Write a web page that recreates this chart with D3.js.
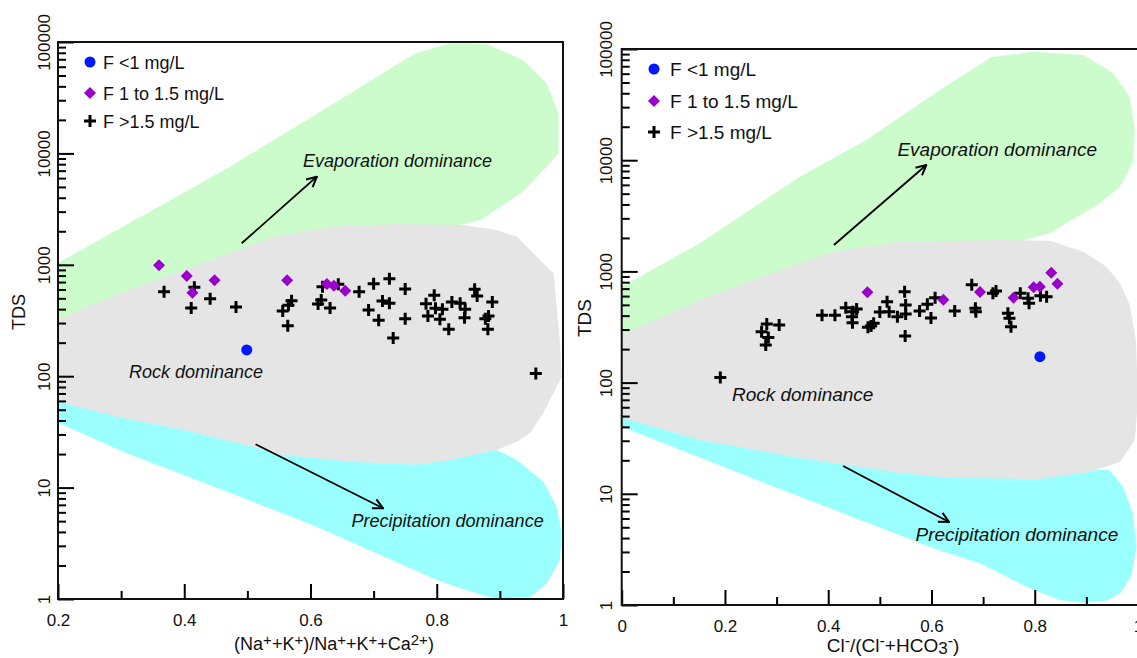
<!DOCTYPE html>
<html>
<head>
<meta charset="utf-8">
<script src="https://cdn.jsdelivr.net/npm/d3@7"></script>
<style>
 body { margin: 0; background: #fff; }
 text { font-family: "Liberation Sans", Arial, sans-serif; }
</style>
</head>
<body>
<svg id="chart" width="1137" height="658"></svg>
<script>
/* Gibbs diagrams: TDS against cation and anion ratios, samples split by fluoride class */

// ---- data ----
var tdsTicks = [1, 10, 100, 1000, 10000, 100000];
var naTicks = [0.2, 0.4, 0.6, 0.8, 1];
var naMinor = [0.3, 0.5, 0.7, 0.9];
var clTicks = [0, 0.2, 0.4, 0.6, 0.8, 1];
var clMinor = [0.1, 0.3, 0.5, 0.7, 0.9];
var legendLabels = ['F <1 mg/L', 'F 1 to 1.5 mg/L', 'F >1.5 mg/L'];

// left panel: (Na+K)/(Na+K+Ca) vs TDS
var naLowF = [[0.499, 172]];
var naMidF = [[0.360, 990], [0.404, 793], [0.448, 726], [0.413, 562], [0.563, 726],
 [0.626, 672], [0.637, 649], [0.655, 586]];
var naHighF = [[0.368, 574], [0.416, 628], [0.411, 409], [0.441, 496], [0.482, 418],
 [0.570, 476], [0.565, 433], [0.556, 385], [0.564, 284], [0.619, 636], [0.644, 668],
 [0.617, 483], [0.612, 445], [0.631, 409], [0.677, 574], [0.700, 677], [0.725, 750],
 [0.750, 607], [0.714, 473], [0.725, 451], [0.692, 393], [0.708, 318], [0.750, 328],
 [0.731, 220], [0.796, 532], [0.783, 448], [0.798, 407], [0.809, 399], [0.786, 347],
 [0.805, 324], [0.824, 463], [0.837, 451], [0.845, 399], [0.844, 335], [0.819, 264],
 [0.860, 603], [0.864, 525], [0.888, 463], [0.882, 347], [0.877, 328], [0.881, 264],
 [0.957, 106]];

// right panel: Cl/(Cl+HCO3) vs TDS
var clLowF = [[0.810, 171]];
var clMidF = [[0.476, 649], [0.623, 557], [0.694, 653], [0.759, 580], [0.798, 719],
 [0.810, 729], [0.832, 974], [0.844, 776]];
var clHighF = [[0.191, 111], [0.281, 336], [0.305, 330], [0.271, 287], [0.284, 255],
 [0.279, 218], [0.388, 403], [0.413, 403], [0.434, 472], [0.448, 434], [0.455, 459],
 [0.446, 391], [0.447, 346], [0.477, 314], [0.488, 341], [0.483, 323], [0.500, 431],
 [0.514, 534], [0.518, 434], [0.534, 391], [0.548, 657], [0.550, 499], [0.550, 414],
 [0.549, 262], [0.577, 440], [0.592, 506], [0.599, 381], [0.607, 580], [0.645, 440],
 [0.678, 759], [0.685, 466], [0.686, 434], [0.719, 635], [0.725, 666], [0.748, 420],
 [0.751, 379], [0.754, 318], [0.772, 635], [0.787, 573], [0.789, 517], [0.811, 605],
 [0.823, 593]];

// dominance fields (outlines as [ratio, TDS])
var naEvap = [[0.2, 1038], [0.4725, 7600], [0.594, 19950], [0.689, 42600], [0.766, 79200],
 [0.821, 97300], [0.879, 95900], [0.937, 68900], [0.974, 42600], [0.993, 22900],
 [0.993, 10000], [0.979, 8150], [0.937, 4530], [0.869, 2520], [0.742, 1670],
 [0.425, 594], [0.2, 260]];
var naRock = [[0.2, 319], [0.298, 555], [0.4725, 1268], [0.541, 1787], [0.631, 2198],
 [0.737, 2324], [0.842, 2276], [0.895, 2052], [0.927, 1787], [0.948, 1358],
 [0.974, 961], [0.985, 839], [0.990, 421], [0.995, 211], [0.998, 99], [0.985, 70.7],
 [0.969, 46.7], [0.948, 30.9], [0.927, 25.8], [0.895, 21.8], [0.821, 17.7],
 [0.768, 16.0], [0.663, 17.1], [0.557, 19.6], [0.504, 23.6], [0.3985, 32.9],
 [0.293, 43.3], [0.2, 59.0]];
var naPrecip = [[0.2, 65], [0.5, 26], [0.77, 17.5], [0.895, 21.8], [0.927, 17.7],
 [0.969, 11.3], [0.990, 6.74], [0.998, 3.89], [0.995, 2.24], [0.974, 1.38],
 [0.948, 1.04], [0.895, 1.0], [0.847, 1.2], [0.8, 1.48], [0.610, 4.46], [0.488, 8.3],
 [0.309, 20.3], [0.2, 38.3]];

var clEvap = [[0, 728], [0.1516, 1790], [0.345, 7110], [0.474, 15200], [0.616, 42800],
 [0.716, 84200], [0.797, 94600], [0.894, 88300], [0.952, 60400], [0.984, 37200],
 [0.994, 18700], [0.990, 9380], [0.965, 5780], [0.926, 4100], [0.829, 2200],
 [0.636, 1266], [0.345, 680], [0, 218]];
var clRock = [[0, 268], [0.1516, 553], [0.345, 1183], [0.410, 1503], [0.539, 1849],
 [0.732, 1915], [0.829, 1889], [0.894, 1503], [0.939, 1102], [0.965, 782],
 [0.984, 499], [0.996, 242], [1.0, 69.8], [0.994, 30.5], [0.965, 19.3], [0.907, 15.7],
 [0.810, 13.6], [0.636, 13.9], [0.539, 15.4], [0.345, 21], [0.1516, 30.5], [0, 48.3]];
var clPrecip = [[0, 56.7], [0.345, 24.8], [0.732, 16.4], [0.945, 16.4], [0.971, 11.6],
 [0.990, 6.68], [0.997, 3.35], [0.987, 1.80], [0.965, 1.27], [0.939, 1.09],
 [0.894, 1.05], [0.848, 1.11], [0.784, 1.46], [0.694, 2.37], [0.613, 3.12],
 [0.262, 13.3], [0, 40.1]];

// annotation anchors [ratio, TDS]
var naNotes = [[0.588, 7600, 'Evaporation dominance'], [0.3125, 96.4, 'Rock dominance'],
 [0.665, 4.46, 'Precipitation dominance']];
var naArrows = [[[0.491, 1560], [0.610, 6180]], [[0.513, 24.5], [0.715, 6.52]]];
var clNotes = [[0.534, 10900, 'Evaporation dominance'], [0.2135, 68.3, 'Rock dominance'],
 [0.569, 3.76, 'Precipitation dominance']];
var clArrows = [[[0.411, 1727], [0.590, 9060]], [[0.429, 17.8], [0.634, 5.58]]];

// ---- styling ----
var colEvap = 'rgb(204, 252, 204)';
var colRock = 'rgb(229, 229, 229)';
var colPrecip = 'rgb(153, 255, 255)';
var colLow = 'rgb(0, 24, 255)';
var colMid = 'rgb(153, 0, 204)';

var svg = d3.select('#chart');
var defs = svg.append('defs');
defs.append('marker')
 .attr('id', 'arrowHead')
 .attr('viewBox', '0 0 12 12')
 .attr('refX', 11).attr('refY', 6)
 .attr('markerWidth', 12).attr('markerHeight', 12)
 .attr('markerUnits', 'userSpaceOnUse')
 .attr('orient', 'auto')
 .append('path')
 .attr('d', 'M1,1 L11,6 L1,11')
 .style('fill', 'none')
 .style('stroke', '#000')
 .style('stroke-width', '2px');

/* draws one marker of a given kind at (cx, cy) into group g */
function drawSymbol(g, kind, cx, cy)
{
 if(kind == 'circle')
 {
  g.append('circle').attr('cx', cx).attr('cy', cy).attr('r', 5.5)
   .style('fill', colLow);
 }
 else if(kind == 'diamond')
 {
  g.append('path')
   .attr('d', 'M0,-6L6,0L0,6L-6,0Z')
   .attr('transform', 'translate(' + cx + ',' + cy + ')')
   .style('fill', colMid);
 }
 else
 {
  g.append('path')
   .attr('d', 'M-6,0H6M0,-6V6')
   .attr('transform', 'translate(' + cx + ',' + cy + ')')
   .style('stroke', '#000')
   .style('stroke-width', '3px');
 }
}

/* draws one Gibbs panel
 - p : panel settings (pixel frame, domains, fields, points, labels) */
function drawPanel(p)
{
 var x = d3.scaleLinear().domain(p.xDomain).range([p.left, p.right]);
 var y = d3.scaleLog().domain([1, 100000]).range([p.bottom, p.top]);
 var g = svg.append('g').attr('class', 'panel_' + p.id);

 defs.append('clipPath').attr('id', 'clip_' + p.id)
  .append('rect')
  .attr('x', p.left).attr('y', p.top)
  .attr('width', p.right - p.left).attr('height', p.bottom - p.top);

 // fields: evaporation and precipitation below, rock on top
 var outline = d3.line().x(function(d){ return x(d[0]); }).y(function(d){ return y(d[1]); })
  .curve(d3.curveLinearClosed);
 var fields = g.append('g').attr('clip-path', 'url(#clip_' + p.id + ')');
 [[p.evap, colEvap], [p.precip, colPrecip], [p.rock, colRock]].forEach(function(f){
  fields.append('path').attr('d', outline(f[0])).style('fill', f[1]).style('stroke', 'none');
 });

 // arrows and field names
 p.arrows.forEach(function(a){
  g.append('line')
   .attr('x1', x(a[0][0])).attr('y1', y(a[0][1]))
   .attr('x2', x(a[1][0])).attr('y2', y(a[1][1]))
   .style('stroke', '#000').style('stroke-width', '1.8px')
   .attr('marker-end', 'url(#arrowHead)');
 });
 p.notes.forEach(function(n){
  g.append('text')
   .attr('x', x(n[0])).attr('y', y(n[1]))
   .attr('font-size', p.noteSize)
   .attr('font-style', 'italic')
   .style('fill', '#111')
   .text(n[2]);
 });

 // samples
 var pts = g.append('g');
 p.high.forEach(function(d){ drawSymbol(pts, 'cross', x(d[0]), y(d[1])); });
 p.mid.forEach(function(d){ drawSymbol(pts, 'diamond', x(d[0]), y(d[1])); });
 p.low.forEach(function(d){ drawSymbol(pts, 'circle', x(d[0]), y(d[1])); });

 // legend
 var kinds = ['circle', 'diamond', 'cross'];
 legendLabels.forEach(function(lab, i){
  drawSymbol(g, kinds[i], p.legX, p.legY[i]);
  g.append('text')
   .attr('x', p.legX + p.legGap).attr('y', p.legY[i] + p.legBase)
   .attr('font-size', p.noteSize)
   .style('fill', '#111')
   .text(lab);
 });

 // minor ticks, then major ticks with labels (ticks point inward)
 var yMinor = [];
 tdsTicks.slice(0, -1).forEach(function(t){
  for(var k = 2; k < 10; k++){ yMinor.push(t * k); }
 });
 var yMin = g.append('g').attr('transform', 'translate(' + p.left + ',0)')
  .call(d3.axisLeft(y).tickValues(yMinor).tickSize(-8).tickFormat(''));
 var yMaj = g.append('g').attr('transform', 'translate(' + p.left + ',0)')
  .call(d3.axisLeft(y).tickValues(tdsTicks).tickSize(-16).tickFormat(d3.format('d')));
 yMaj.selectAll('text')
  .attr('transform', 'rotate(-90)')
  .attr('x', 0).attr('y', -p.yLabGap).attr('dy', null)
  .attr('text-anchor', 'middle');

 var xMin = g.append('g').attr('transform', 'translate(0,' + p.bottom + ')')
  .call(d3.axisBottom(x).tickValues(p.xMinor).tickSize(-8).tickFormat(''));
 var xMaj = g.append('g').attr('transform', 'translate(0,' + p.bottom + ')')
  .call(d3.axisBottom(x).tickValues(p.xTicks).tickSize(-15).tickFormat(d3.format('')));
 xMaj.selectAll('text').attr('y', 27).attr('dy', null);

 [yMin, yMaj, xMin, xMaj].forEach(function(a){
  a.select('.domain').remove();
  a.attr('font-family', null).attr('font-size', p.tickSize);
  a.selectAll('line').style('stroke', '#000').style('stroke-width', '2px');
  a.selectAll('text').style('fill', '#111');
 });

 // frame
 g.append('rect')
  .attr('x', p.left).attr('y', p.top)
  .attr('width', p.right - p.left).attr('height', p.bottom - p.top)
  .style('fill', 'none').style('stroke', '#111').style('stroke-width', '2px');

 // axis titles
 g.append('text')
  .attr('transform', 'translate(' + p.yTitleX + ',' + p.yTitleY + ') rotate(-90)')
  .attr('text-anchor', 'middle')
  .attr('font-size', p.noteSize)
  .style('fill', '#111')
  .text('TDS');

 var title = g.append('text')
  .attr('x', p.xTitleX).attr('y', p.xTitleY)
  .attr('text-anchor', 'middle')
  .attr('font-size', p.noteSize)
  .style('fill', '#111');
 p.xTitle.forEach(function(part){
  var t = title.append('tspan').text(part[0]);
  if(part[1] == 'sup')
  {
   t.attr('baseline-shift', '35%').attr('font-size', p.noteSize - 3);
  }
  else if(part[1] == 'sub')
  {
   t.attr('baseline-shift', '-10%').attr('font-size', p.noteSize - 2);
  }
 });
}

drawPanel({
 id: 'na', left: 58, right: 563, top: 42, bottom: 599,
 xDomain: [0.2, 1], xTicks: naTicks, xMinor: naMinor,
 evap: naEvap, rock: naRock, precip: naPrecip,
 low: naLowF, mid: naMidF, high: naHighF,
 notes: naNotes, arrows: naArrows,
 noteSize: 18, tickSize: 17, yLabGap: 8,
 legX: 90, legGap: 13, legY: [62, 93, 121], legBase: 6.5,
 yTitleX: 25, yTitleY: 312,
 xTitleX: 334, xTitleY: 650,
 xTitle: [['(Na', ''], ['+', 'sup'], ['+K', ''], ['+', 'sup'], [')/Na', ''], ['+', 'sup'],
  ['+K', ''], ['+', 'sup'], ['+Ca', ''], ['2+', 'sup'], [')', '']]
});

drawPanel({
 id: 'cl', left: 621.7, right: 1138, top: 49, bottom: 605,
 xDomain: [0, 1], xTicks: clTicks, xMinor: clMinor,
 evap: clEvap, rock: clRock, precip: clPrecip,
 low: clLowF, mid: clMidF, high: clHighF,
 notes: clNotes, arrows: clArrows,
 noteSize: 19, tickSize: 17, yLabGap: 10,
 legX: 654, legGap: 16, legY: [69, 101, 132], legBase: 7,
 yTitleX: 591, yTitleY: 318,
 xTitleX: 893, xTitleY: 652,
 xTitle: [['Cl', ''], ['-', 'sup'], ['/(Cl', ''], ['-', 'sup'], ['+HCO', ''], ['3', 'sub'],
  ['-', 'sup'], [')', '']]
});
</script>
</body>
</html>
